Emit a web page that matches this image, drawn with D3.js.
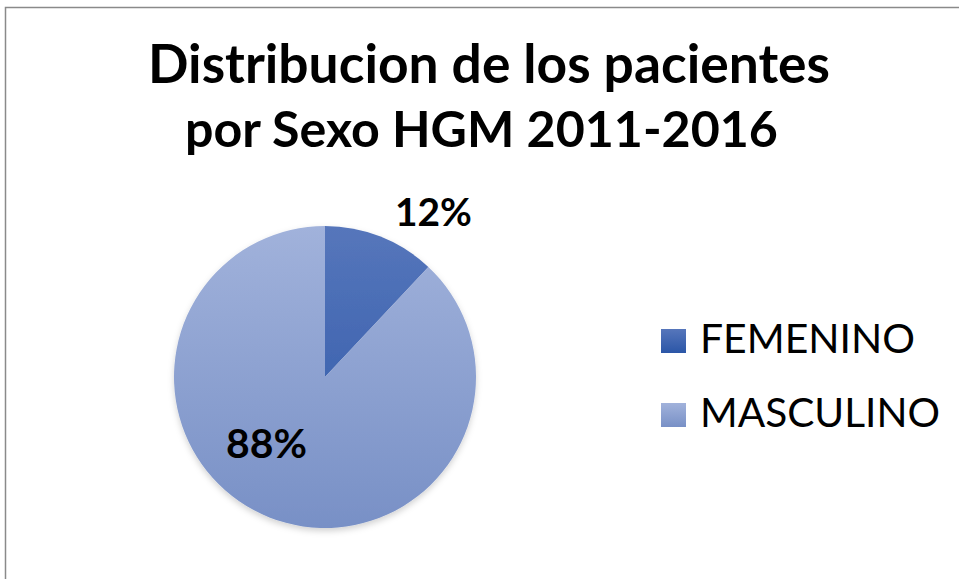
<!DOCTYPE html>
<html>
<head>
<meta charset="utf-8">
<script src="https://cdn.jsdelivr.net/npm/d3@7"></script>
<style>
  body { margin: 0; background: #fff; }
  text { font-family: Lato, "Open Sans", sans-serif; fill: #000; }
</style>
</head>
<body>
<svg id="chart" width="959" height="579"></svg>
<script>
const TITLE_LINES = ["Distribucion de los pacientes", "por Sexo HGM 2011-2016"]
const categories = ["FEMENINO", "MASCULINO"]
const values = [12, 88]
const labels = ["12%", "88%"]

// gradient stops per slice: [top, bottom]
const sliceColors = [["#5676bb", "#2b56a7"], ["#a1b2db", "#7890c6"]]

const CX = 325, CY = 377, R = 151

const svg = d3.select("#chart")
const defs = svg.append("defs")

// fit a text element to a target width by adjusting font-size
function fitWidth(sel, target) {
    const fs = parseFloat(sel.style("font-size"))
    const w = sel.node().getComputedTextLength()
    sel.style("font-size", (fs * target / w).toFixed(2) + "px")
}

// frame (runs off the right and bottom edges)
svg.append("rect")
    .attr("x", 5.5).attr("y", 7.5)
    .attr("width", 1000).attr("height", 600)
    .attr("fill", "#fff")
    .attr("stroke", "#8a8a8a")
    .attr("stroke-width", 1.5)

// gradients: pie ones span the pie's height (in the pie group's coords)
sliceColors.forEach(function (c, i) {
    const g = defs.append("linearGradient")
        .attr("id", "grad" + i)
        .attr("gradientUnits", "userSpaceOnUse")
        .attr("x1", 0).attr("y1", -R)
        .attr("x2", 0).attr("y2", R)
    g.append("stop").attr("offset", "0%").attr("stop-color", c[0])
    g.append("stop").attr("offset", "100%").attr("stop-color", c[1])

    const lg = defs.append("linearGradient")
        .attr("id", "lgrad" + i)
        .attr("x1", 0).attr("y1", 0).attr("x2", 0).attr("y2", 1)
    lg.append("stop").attr("offset", "0%").attr("stop-color", c[0])
    lg.append("stop").attr("offset", "100%").attr("stop-color", c[1])
})

const shadow = defs.append("filter").attr("id", "shadow")
    .attr("x", "-10%").attr("y", "-10%").attr("width", "120%").attr("height", "125%")
shadow.append("feDropShadow")
    .attr("dx", 0).attr("dy", 3).attr("stdDeviation", 3)
    .attr("flood-color", "#000").attr("flood-opacity", 0.18)

// title
const titleX = [148, 185]
const titleYs = [83, 147]
const titleWidths = [682, 593]
TITLE_LINES.forEach(function (t, i) {
    const el = svg.append("text")
        .attr("x", titleX[i])
        .attr("y", titleYs[i])
        .style("font-weight", "bold")
        .style("font-size", "50px")
        .text(t)
    fitWidth(el, titleWidths[i])
})

// pie
const pie = d3.pie().sort(null).value(d => d)
const arc = d3.arc().innerRadius(0).outerRadius(R)

svg.append("g")
    .attr("transform", `translate(${CX}, ${CY})`)
    .attr("filter", "url(#shadow)")
    .selectAll("path")
    .data(pie(values))
    .enter()
    .append("path")
    .attr("d", arc)
    .attr("fill", (d, i) => `url(#grad${i})`)

// data labels
const labelPos = [[395, 226, 77], [226, 458, 81]]
labels.forEach(function (l, i) {
    const el = svg.append("text")
        .attr("x", labelPos[i][0])
        .attr("y", labelPos[i][1])
        .style("font-weight", "bold")
        .style("font-size", "38px")
        .text(l)
    fitWidth(el, labelPos[i][2])
})

// legend
const legendYs = [353, 427]
const legendWidths = [215, 240]
categories.forEach(function (c, i) {
    svg.append("rect")
        .attr("x", 661).attr("y", legendYs[i] - 24)
        .attr("width", 25).attr("height", 24)
        .attr("fill", `url(#lgrad${i})`)
    const el = svg.append("text")
        .attr("x", 700)
        .attr("y", legendYs[i])
        .style("font-size", "36px")
        .text(c)
    fitWidth(el, legendWidths[i])
})
</script>
</body>
</html>
